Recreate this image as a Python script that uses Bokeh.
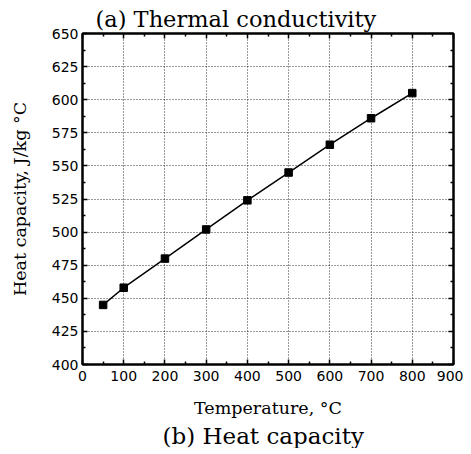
from bokeh.plotting import figure
from bokeh.models import LinearAxis, Title, Range1d, FixedTicker
from bokeh.embed import file_html
from bokeh.resources import INLINE

temperature = [50, 100, 200, 300, 400, 500, 600, 700, 800]
heat_capacity = [445, 458, 480, 502, 524, 545, 566, 586, 605]
x_ticks = [0, 100, 200, 300, 400, 500, 600, 700, 800, 900]
y_ticks = [400, 425, 450, 475, 500, 525, 550, 575, 600, 625, 650]
x_minor = [50, 150, 250, 350, 450, 550, 650, 750, 850]
y_minor = [412.5, 437.5, 462.5, 487.5, 512.5, 537.5, 562.5, 587.5, 612.5, 637.5]

p = figure(width=463, height=446, output_backend="svg", toolbar_location=None,
           x_range=Range1d(0, 900), y_range=Range1d(400, 650),
           min_border_left=82, min_border_right=10, min_border_top=33, min_border_bottom=82,
           x_axis_label="Temperature, °C", y_axis_label="Heat capacity, J/kg °C")
p.frame_width = 371
p.frame_height = 331
p.background_fill_color = "white"
p.outline_line_color = "black"
p.outline_line_width = 2

p.title.text = "(a) Thermal conductivity"
p.title.align = "left"
p.title.offset = 13
p.title.text_font = "DejaVu Serif"
p.title.text_font_size = "22.5px"
p.title.text_font_style = "normal"
p.title.text_color = "black"
p.title.standoff = 3

def style_axis(ax, ticks, minor, labels=True):
    ax.ticker = FixedTicker(ticks=ticks, minor_ticks=minor)
    ax.axis_line_color = "black"
    ax.axis_line_width = 2
    ax.major_tick_in = 5
    ax.major_tick_out = 0
    ax.minor_tick_in = 3
    ax.minor_tick_out = 0
    ax.major_tick_line_width = 1.5
    ax.minor_tick_line_width = 1.5
    ax.major_label_text_font = "DejaVu Sans"
    ax.major_label_text_font_size = "14px"
    ax.major_label_text_color = "black"
    ax.major_label_standoff = 5
    if not labels:
        ax.major_label_text_alpha = 0
        ax.major_label_text_font_size = "1px"
        ax.major_label_standoff = 0

style_axis(p.xaxis[0], x_ticks, x_minor)
style_axis(p.yaxis[0], y_ticks, y_minor)
p.xaxis[0].major_label_standoff = 6
p.yaxis[0].major_label_standoff = 4
for ax in (p.xaxis[0], p.yaxis[0]):
    ax.axis_label_text_font = "DejaVu Serif"
    ax.axis_label_text_font_size = "17.5px"
    ax.axis_label_text_font_style = "normal"
    ax.axis_label_text_color = "black"
p.xaxis[0].axis_label_standoff = 14
p.yaxis[0].axis_label_standoff = 19

top = LinearAxis()
style_axis(top, x_ticks, x_minor, labels=False)
p.add_layout(top, "above")
right = LinearAxis()
style_axis(right, y_ticks, y_minor, labels=False)
p.add_layout(right, "right")

p.xgrid.ticker = FixedTicker(ticks=x_ticks)
p.ygrid.ticker = FixedTicker(ticks=y_ticks)
for g in (p.xgrid, p.ygrid):
    g.grid_line_color = "black"
    g.grid_line_dash = "1 2"
    g.grid_line_width = 1
    g.grid_line_alpha = 0.8

p.line(temperature, heat_capacity, line_color="black", line_width=1.5)
p.scatter(temperature, heat_capacity, marker="square", size=7.5, color="black")

p.add_layout(Title(text="(b) Heat capacity", align="left", offset=80,
                   text_font="DejaVu Serif", text_font_size="23px",
                   text_font_style="normal", text_color="black", standoff=0), "below")

open("out.html", "w").write(file_html(p, INLINE))
